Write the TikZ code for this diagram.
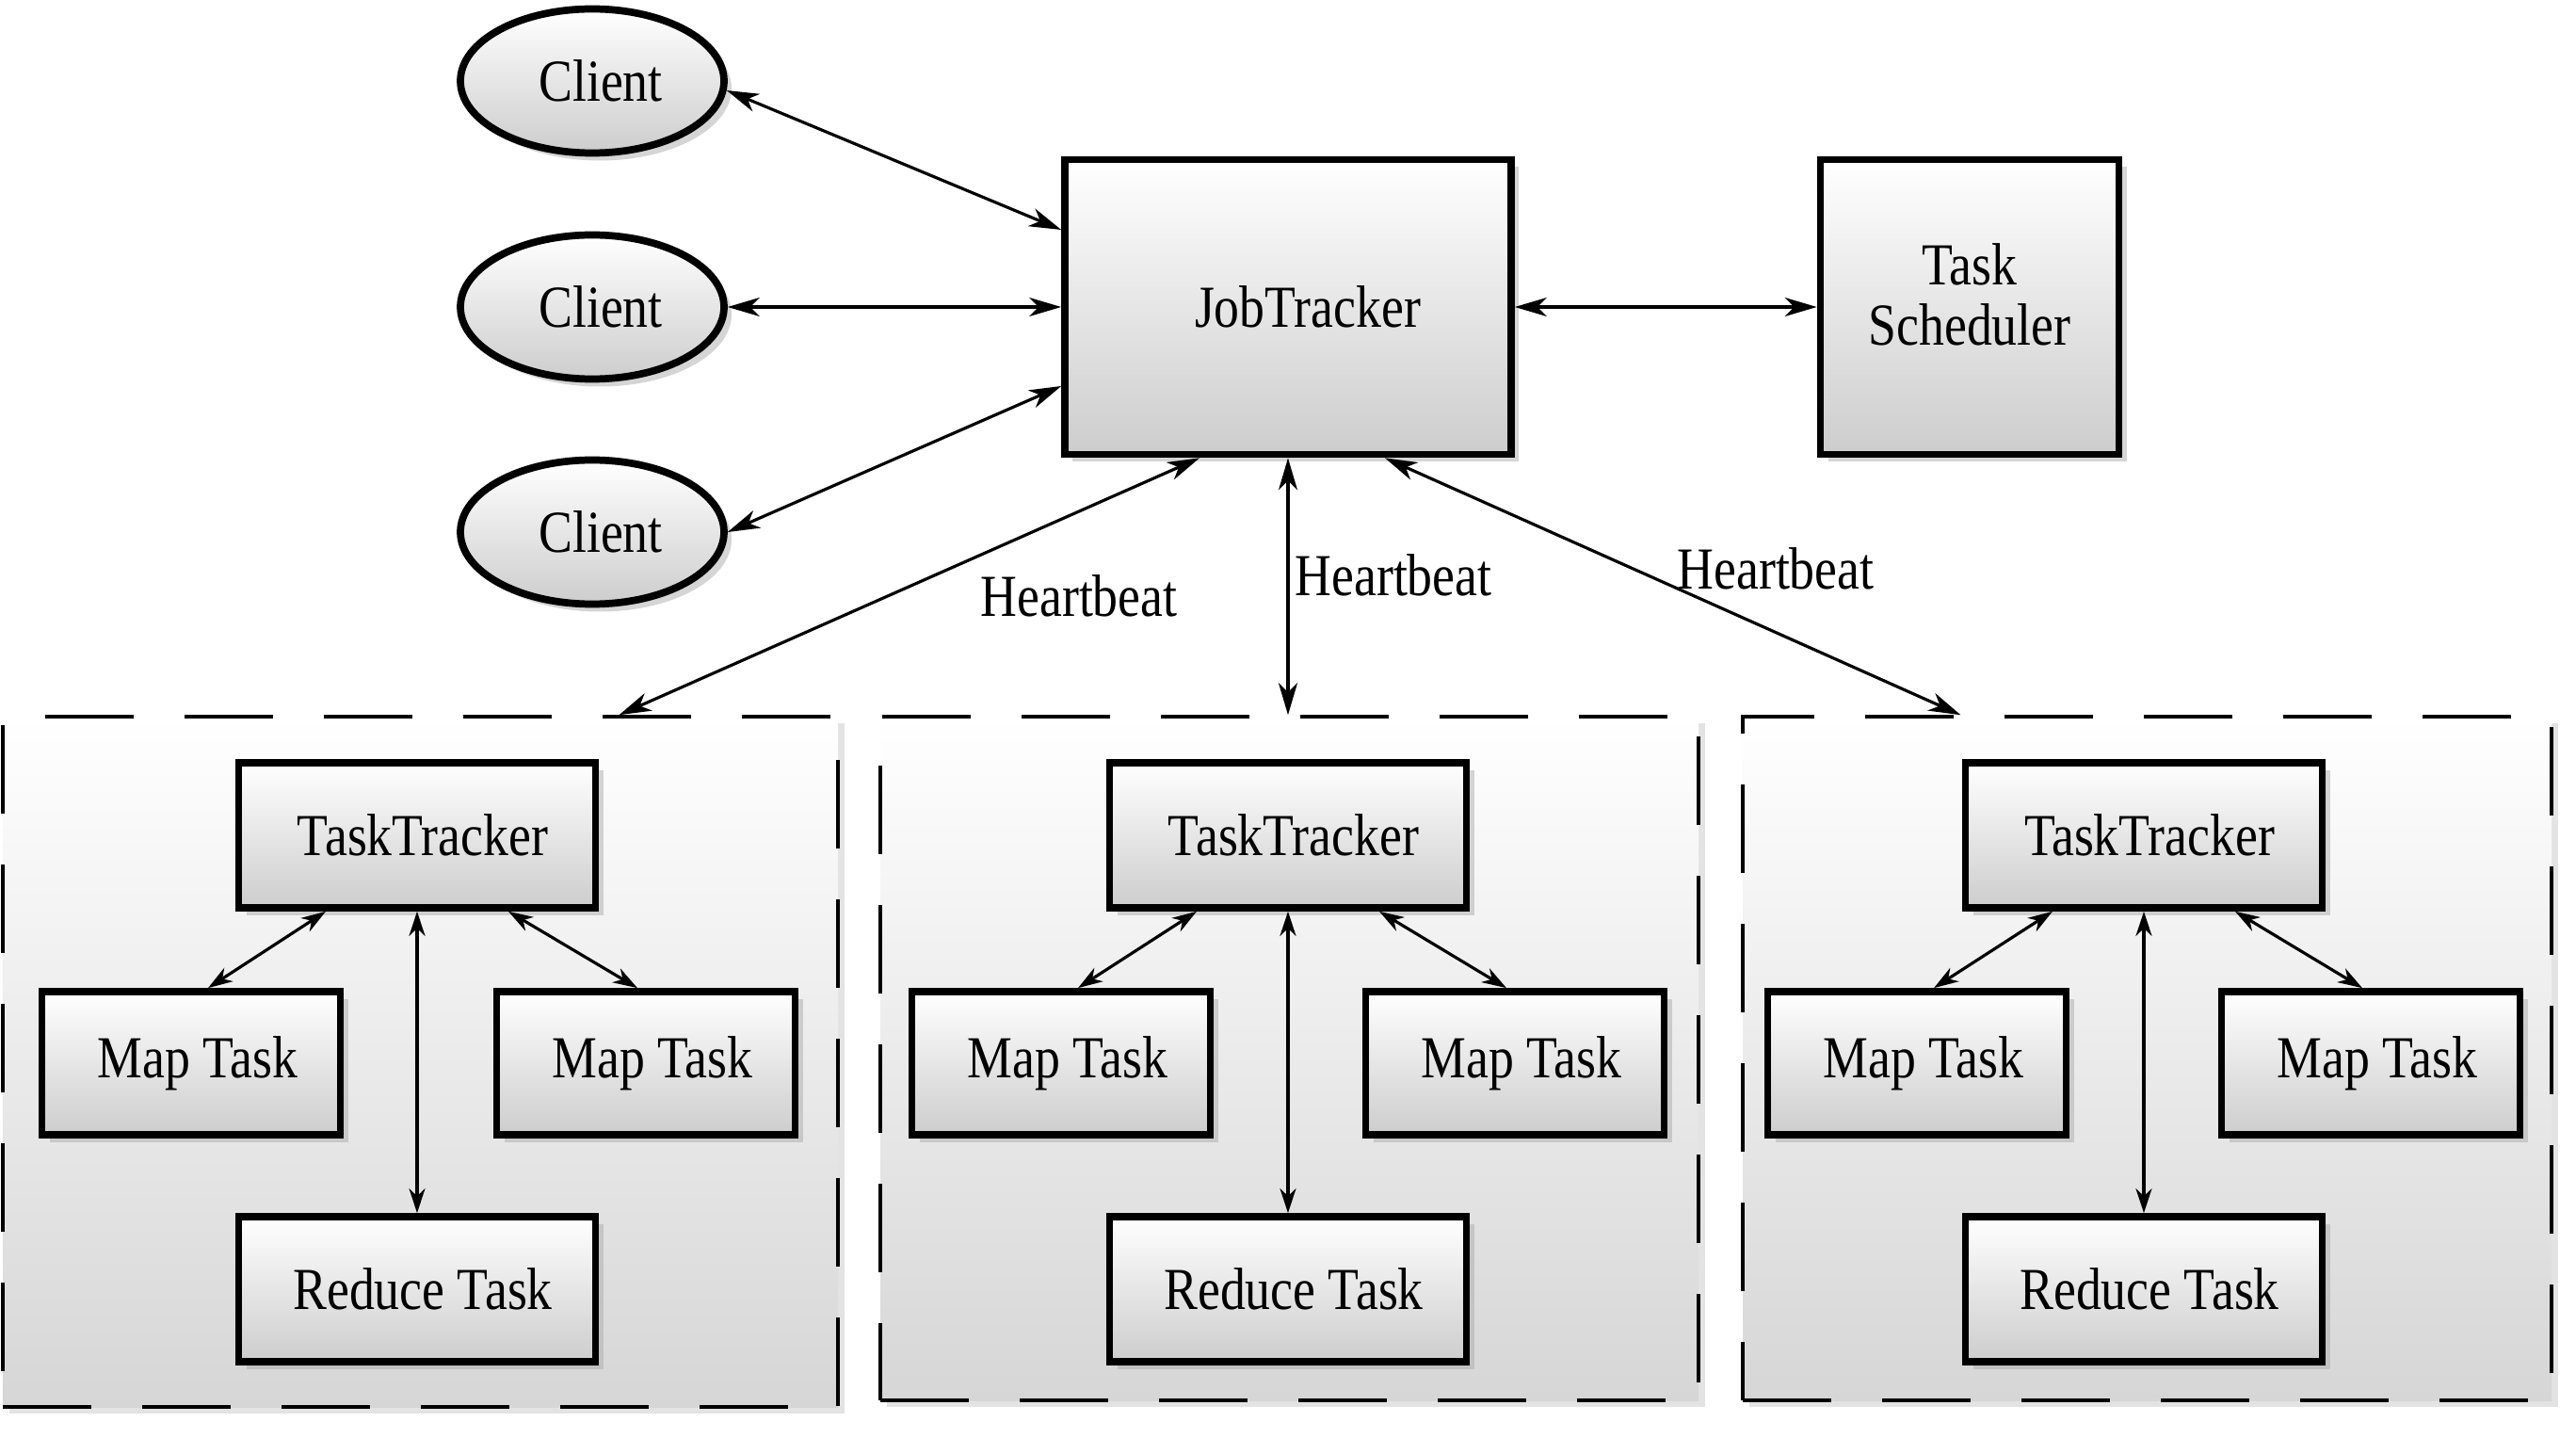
\documentclass[tikz,border=0pt]{standalone}
\usepackage{fontspec}
\setmainfont{Liberation Serif}[FakeStretch=0.85]
\usetikzlibrary{arrows.meta,shadows,shapes.geometric}
\definecolor{hdshade}{HTML}{CDCDCD}
\definecolor{hdgroup}{HTML}{D6D6D6}
\definecolor{hdshadow}{HTML}{ACACAC}
\tikzset{
  hdfont/.style={font=\fontsize{18}{18}\selectfont},
  hdbox/.style={draw, line width=2.2pt, rectangle, top color=white, bottom color=hdshade,
    hdfont, align=center, inner sep=0pt,
    drop shadow={shadow xshift=0.08cm, shadow yshift=-0.08cm, fill=hdshadow}},
  hdpush/.style={execute at begin node={\hspace*{#1}}},
  hdclient/.style={hdbox, hdpush=0.18cm, ellipse, minimum width=2.8cm, minimum height=1.53cm},
  hdtracker/.style={hdbox, hdpush=0.12cm, minimum width=3.79cm, minimum height=1.54cm},
  hdmap/.style={hdbox, hdpush=0.14cm, minimum width=3.17cm, minimum height=1.52cm},
  hdgroupbox/.style={draw, line width=1pt, dash pattern=on 0.94cm off 0.54cm,
    top color=white, bottom color=hdgroup,
    drop shadow={shadow xshift=0.07cm, shadow yshift=-0.07cm, fill=black!22}},
  hdlink/.style={{Stealth[length=0.34cm,width=0.2cm,inset=0.1cm]}-{Stealth[length=0.34cm,width=0.2cm,inset=0.1cm]}, line width=0.9pt},
  hdinner/.style={{Stealth[length=0.26cm,width=0.17cm,inset=0.08cm]}-{Stealth[length=0.26cm,width=0.17cm,inset=0.08cm]}, line width=0.9pt}
}
\begin{document}
\begin{tikzpicture}
  \useasboundingbox (0,0) rectangle (27.36,15.26);
  % dashed groups
  \node[hdgroupbox, minimum width=8.87cm, minimum height=7.33cm] (g1) at (4.465,3.985) {};
  \node[hdgroupbox, minimum width=8.69cm, minimum height=7.26cm] (g2) at (13.695,4.02) {};
  \node[hdgroupbox, minimum width=8.59cm, minimum height=7.26cm] (g3) at (22.805,4.02) {};
  % top row
  \node[hdclient] (c1) at (6.29,14.40) {Client};
  \node[hdclient] (c2) at (6.29,12.00) {Client};
  \node[hdclient] (c3) at (6.29,9.61) {Client};
  \node[hdbox, hdpush=0.42cm, minimum width=4.74cm, minimum height=3.13cm] (jt) at (13.68,12.00) {JobTracker};
  \node[hdbox, text depth=0.27cm, minimum width=3.17cm, minimum height=3.13cm] (ts) at (20.92,12.00) {Task\\Scheduler};
  \draw[hdlink] (c1.-4) -- ([yshift=0.82cm]jt.west);
  \draw[hdlink] (c2.east) -- (jt.west);
  \draw[hdlink] (c3.east) -- ([yshift=-0.84cm]jt.west);
  \draw[hdlink] (jt.east) -- (ts.west);
  \draw[hdlink] ([xshift=-0.94cm]jt.south) -- ([xshift=2.11cm]g1.north);
  \draw[hdlink] (jt.south) -- (jt.south |- g2.north);
  \draw[hdlink] ([xshift=1.03cm]jt.south) -- ([xshift=-1.98cm]g3.north);
  \node[hdfont, anchor=base] (hb1) at (11.46,8.71) {Heartbeat};
  \node[hdfont, anchor=base] (hb2) at (14.80,8.93) {Heartbeat};
  \node[hdfont, anchor=base] (hb3) at (18.86,9.00) {Heartbeat};
  % group 1
  \node[hdtracker] (tt1) at (4.43,6.39) {TaskTracker};
  \node[hdmap] (ml1) at (2.03,3.97) {Map Task};
  \node[hdmap] (mr1) at (6.86,3.97) {Map Task};
  \node[hdtracker] (rd1) at (4.43,1.57) {Reduce Task};
  \draw[hdinner] ([xshift=-0.97cm]tt1.south) -- ([xshift=0.18cm]ml1.north);
  \draw[hdinner] ([xshift=0.97cm]tt1.south) -- ([xshift=-0.09cm]mr1.north);
  \draw[hdinner] (tt1.south) -- (rd1.north);
  % group 2
  \node[hdtracker] (tt2) at (13.68,6.39) {TaskTracker};
  \node[hdmap] (ml2) at (11.27,3.97) {Map Task};
  \node[hdmap] (mr2) at (16.09,3.97) {Map Task};
  \node[hdtracker] (rd2) at (13.68,1.57) {Reduce Task};
  \draw[hdinner] ([xshift=-0.97cm]tt2.south) -- ([xshift=0.18cm]ml2.north);
  \draw[hdinner] ([xshift=0.97cm]tt2.south) -- ([xshift=-0.09cm]mr2.north);
  \draw[hdinner] (tt2.south) -- (rd2.north);
  % group 3
  \node[hdtracker] (tt3) at (22.77,6.39) {TaskTracker};
  \node[hdmap] (ml3) at (20.36,3.97) {Map Task};
  \node[hdmap] (mr3) at (25.18,3.97) {Map Task};
  \node[hdtracker] (rd3) at (22.77,1.57) {Reduce Task};
  \draw[hdinner] ([xshift=-0.97cm]tt3.south) -- ([xshift=0.18cm]ml3.north);
  \draw[hdinner] ([xshift=0.97cm]tt3.south) -- ([xshift=-0.09cm]mr3.north);
  \draw[hdinner] (tt3.south) -- (rd3.north);
\end{tikzpicture}
\end{document}
